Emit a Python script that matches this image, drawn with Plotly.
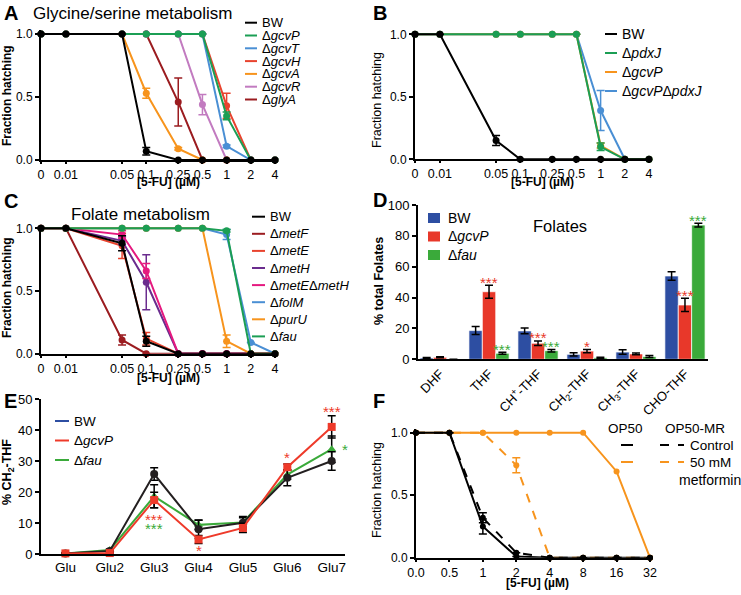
import math
import plotly.graph_objects as go

W, H = 741, 595
FONT = "Arial, Liberation Sans, sans-serif"

# ---------------- data ----------------
CONC = [0, 0.01, 0.05, 0.1, 0.25, 0.5, 1, 2, 4]
CONC_LABELS = ["0", "0.01", "0.05", "0.1", "0.25", "0.5", "1", "2", "4"]
ZERO_AT = 0.0049          # where the "0" dose sits on the log axis

# A: glycine/serine metabolism
A_BW = [1, 1, 1, 0.07, 0, 0, 0, 0, 0]
A_BW_ERR = [None, None, None, 0.03, None, None, None, None, None]
A_GCVP = [1, 1, 1, 1, 1, 1, 0.35, 0, 0]
A_GCVP_ERR = [None] * 6 + [0.03, None, None]
A_GCVT = [1, 1, 1, 1, 1, 1, 0.11, 0, 0]
A_GCVT_ERR = [None] * 6 + [0.01, None, None]
A_GCVH = [1, 1, 1, 1, 1, 1, 0.43, 0, 0]
A_GCVH_ERR = [None] * 6 + [0.1, None, None]
A_GCVA = [1, 1, 1, 0.53, 0.09, 0, 0, 0, 0]
A_GCVA_ERR = [None, None, None, 0.04, 0.01, None, None, None, None]
A_GCVR = [1, 1, 1, 1, 1, 0.44, 0, 0, 0]
A_GCVR_ERR = [None] * 5 + [0.08, None, None, None]
A_GLYA = [1, 1, 1, 1, 0.46, 0, 0, 0, 0]
A_GLYA_ERR = [None] * 4 + [0.19, None, None, None, None]

# B: pdxJ
B_BW = [1, 1, 0.15, 0, 0, 0, 0, 0, 0]
B_BW_ERR = [None, None, 0.04] + [None] * 6
B_PDXJ = [1, 1, 1, 1, 1, 1, 0.1, 0, 0]
B_PDXJ_ERR = [None] * 6 + [0.03, None, None]
B_GCVP = [1, 1, 1, 1, 1, 1, 0.11, 0, 0]
B_GCVP_ERR = [None] * 6 + [0.02, None, None]
B_DOUBLE = [1, 1, 1, 1, 1, 1, 0.39, 0, 0]
B_DOUBLE_ERR = [None] * 6 + [0.16, None, None]

# C: folate metabolism
C_BW = [1, 1, 0.88, 0.1, 0, 0, 0, 0, 0]
C_BW_ERR = [None, None, 0.06, 0.04] + [None] * 5
C_METF = [1, 1, 0.11, 0, 0, 0, 0, 0, 0]
C_METF_ERR = [None, None, 0.04] + [None] * 6
C_METE = [1, 1, 0.86, 0.12, 0, 0, 0, 0, 0]
C_METE_ERR = [None, None, 0.1, 0.05] + [None] * 5
C_METH = [1, 1, 0.9, 0.57, 0, 0, 0, 0, 0]
C_METH_ERR = [None, None, 0.03, 0.22] + [None] * 5
C_METEH = [1, 1, 0.95, 0.66, 0, 0, 0, 0, 0]
C_METEH_ERR = [None, None, 0.03, 0.06] + [None] * 5
C_FOLM = [1, 1, 1, 1, 1, 1, 0.95, 0.09, 0]
C_FOLM_ERR = [None] * 6 + [0.04, None, None]
C_PURU = [1, 1, 1, 1, 1, 1, 0.1, 0, 0]
C_PURU_ERR = [None] * 6 + [0.05, None, None]
C_FAU = [1, 1, 1, 1, 1, 1, 0.98, 0, 0]
C_FAU_ERR = [None] * 6 + [0.01, None, None]

# D: folate species
FOLATES = ["DHF", "THF", "CH<sup>+</sup>-THF", "CH<sub>2</sub>-THF", "CH<sub>3</sub>-THF", "CHO-THF"]
D_BW = [0.9, 18.6, 18.4, 3.2, 4.7, 54.0]
D_BW_ERR = [0.3, 2.6, 1.9, 1.0, 1.5, 2.8]
D_GCVP = [1.3, 43.8, 10.4, 5.3, 3.5, 35.2]
D_GCVP_ERR = [0.3, 4.2, 1.5, 1.0, 0.6, 4.3]
D_FAU = [0.0, 3.9, 5.6, 1.0, 1.8, 87.0]
D_FAU_ERR = [0.0, 0.7, 0.8, 0.3, 0.6, 1.2]

# E: polyglutamation of CH2-THF
GLU = ["Glu", "Glu2", "Glu3", "Glu4", "Glu5", "Glu6", "Glu7"]
E_BW = [0.2, 1.0, 25.8, 8.0, 10.1, 24.6, 30.0]
E_BW_ERR = [0.2, 0.3, 2.0, 3.0, 2.0, 2.6, 3.0]
E_GCVP = [0.2, 0.3, 17.4, 4.7, 8.4, 28.0, 41.0]
E_GCVP_ERR = [0.1, 0.2, 2.5, 1.3, 1.5, 1.0, 3.6]
E_FAU = [0.2, 1.3, 18.6, 9.4, 10.2, 25.6, 33.8]
E_FAU_ERR = [0.1, 0.3, 3.7, 1.5, 1.5, 1.5, 4.3]

# F: metformin
F_CONC = [0, 0.5, 1, 2, 4, 8, 16, 32]
F_LABELS = ["0.0", "0.5", "1", "2", "4", "8", "16", "32"]
F_ZERO_AT = 0.25
F_OP50_CTRL = [1, 1, 0.25, 0.01, 0, 0, 0, 0]
F_OP50_CTRL_ERR = [None, None, 0.06] + [None] * 5
F_MR_CTRL = [1, 1, 0.32, 0.04, 0, 0, 0, 0]
F_MR_CTRL_ERR = [None, None, 0.04] + [None] * 5
F_OP50_MET = [1, 1, 1, 1, 1, 1, 0.69, 0]
F_MR_MET = [1, 1, 1, 0.74, 0, 0, 0, 0]
F_MR_MET_ERR = [None, None, None, 0.06] + [None] * 4

# colours
BLACK = "#000000"
GREEN = "#1B9E54"
BLUE = "#4A8FD4"
RED = "#E8432E"
ORANGE = "#F7941D"
PINK = "#C27BC0"
DKRED = "#9B1C20"
PURPLE = "#6A2C8E"
MAGENTA = "#E5197F"
D_BLUE = "#2D4EA2"
D_RED = "#E8382A"
D_GREEN = "#3AAA3A"
E_RED = "#EE3A2A"


def px(x):
    return x / W


def py(y):
    return 1 - y / H


AX = dict(showline=True, linecolor="black", linewidth=2, ticks="outside", ticklen=4,
          tickwidth=1.5, tickcolor="black", showgrid=False, zeroline=False, automargin=False,
          tickfont=dict(size=12, color="black", family=FONT))


def frac_y(p0, p1, anchor):
    top = p1 - 0.03 * (p0 - p1)
    return dict(AX, domain=[py(p0), py(top)], range=[0, 1.03], tickvals=[0, 0.5, 1],
                ticktext=["0.0", "0.5", "1.0"], anchor=anchor)


def log_x(x0, x1, zero, vals, labels, anchor):
    tv = [v if v > 0 else zero for v in vals]
    return dict(AX, type="log", domain=[px(x0), px(x1)],
                range=[math.log10(zero), math.log10(max(vals))],
                tickvals=tv, ticktext=labels, anchor=anchor, ticklen=2,
                tickfont=dict(size=12.5, color="black", family=FONT))


fig = go.Figure()


def curve(ax, conc, zero, y, err, color, dash="solid", size=7):
    x = [c if c > 0 else zero for c in conc]
    fig.add_trace(go.Scatter(
        x=x, y=y, mode="lines+markers", xaxis="x" + ax, yaxis="y" + ax,
        line=dict(color=color, width=2, dash=dash),
        marker=dict(size=size, color=color),
        error_y=dict(type="data", array=err, color=color, thickness=1.5, width=4) if err else None,
        cliponaxis=False, showlegend=False, hoverinfo="skip"))


# A
for y, e, c in [(A_GLYA, A_GLYA_ERR, DKRED), (A_GCVR, A_GCVR_ERR, PINK), (A_GCVA, A_GCVA_ERR, ORANGE),
                (A_GCVH, A_GCVH_ERR, RED), (A_GCVT, A_GCVT_ERR, BLUE), (A_GCVP, A_GCVP_ERR, GREEN),
                (A_BW, A_BW_ERR, BLACK)]:
    curve("", CONC, ZERO_AT, y, e, c)
# B
for y, e, c in [(B_DOUBLE, B_DOUBLE_ERR, BLUE), (B_GCVP, B_GCVP_ERR, ORANGE),
                (B_PDXJ, B_PDXJ_ERR, GREEN), (B_BW, B_BW_ERR, BLACK)]:
    curve("2", CONC, ZERO_AT, y, e, c)
# C
for y, e, c in [(C_METF, C_METF_ERR, DKRED), (C_METE, C_METE_ERR, RED), (C_METH, C_METH_ERR, PURPLE),
                (C_METEH, C_METEH_ERR, MAGENTA), (C_FOLM, C_FOLM_ERR, BLUE), (C_PURU, C_PURU_ERR, ORANGE),
                (C_FAU, C_FAU_ERR, GREEN), (C_BW, C_BW_ERR, BLACK)]:
    curve("3", CONC, ZERO_AT, y, e, c)

# D bars
for vals, errs, c in [(D_BW, D_BW_ERR, D_BLUE), (D_GCVP, D_GCVP_ERR, D_RED), (D_FAU, D_FAU_ERR, D_GREEN)]:
    fig.add_trace(go.Bar(
        x=FOLATES, y=vals, xaxis="x4", yaxis="y4", showlegend=False, hoverinfo="skip",
        marker=dict(color=c, line=dict(color="rgba(255,255,255,0.7)", width=1)),
        error_y=dict(type="data", array=errs, color="black", thickness=1.5, width=4)))

# E lines
for vals, errs, c, sym in [(E_FAU, E_FAU_ERR, D_GREEN, "triangle-up"), (E_BW, E_BW_ERR, "#231F20", "circle"),
                           (E_GCVP, E_GCVP_ERR, E_RED, "square")]:
    fig.add_trace(go.Scatter(
        x=GLU, y=vals, xaxis="x5", yaxis="y5", mode="lines+markers", showlegend=False,
        hoverinfo="skip", cliponaxis=False,
        line=dict(color=c, width=2), marker=dict(symbol=sym, size=8, color=c),
        error_y=dict(type="data", array=errs, color="black", thickness=1.5, width=4)))

# F
curve("6", F_CONC, F_ZERO_AT, F_OP50_MET, None, ORANGE, size=6)
curve("6", F_CONC, F_ZERO_AT, F_MR_MET, F_MR_MET_ERR, ORANGE, dash="dash", size=6)
curve("6", F_CONC, F_ZERO_AT, F_MR_CTRL, F_MR_CTRL_ERR, BLACK, dash="dash", size=6)
curve("6", F_CONC, F_ZERO_AT, F_OP50_CTRL, F_OP50_CTRL_ERR, BLACK, size=6)

BIG = dict(size=13, color="black", family=FONT)
layout = dict(
    template="none",
    width=W, height=H, margin=dict(l=0, r=0, t=0, b=0),
    paper_bgcolor="white", plot_bgcolor="rgba(0,0,0,0)",
    font=dict(family=FONT, color="black", size=12),
    bargap=0.18, bargroupgap=0, barmode="group",
    xaxis=log_x(41, 275, ZERO_AT, CONC, CONC_LABELS, "y"),
    yaxis=frac_y(160, 34, "x"),
    xaxis2=log_x(415, 649, ZERO_AT, CONC, CONC_LABELS, "y2"),
    yaxis2=frac_y(159.3, 34.3, "x2"),
    xaxis3=log_x(41, 275, ZERO_AT, CONC, CONC_LABELS, "y3"),
    yaxis3=frac_y(353.7, 228.3, "x3"),
    xaxis4=dict(AX, domain=[px(418), px(708)], range=[-0.45, 5.47], ticks="", tickangle=-45,
                anchor="y4", tickvals=FOLATES, ticktext=FOLATES, tickfont=BIG),
    yaxis4=dict(AX, domain=[py(359.3), py(205)], range=[0, 100], dtick=20, anchor="x4", tickfont=BIG),
    xaxis5=dict(AX, domain=[px(41), px(345)], range=[-0.55, 6.3], ticks="", anchor="y5",
                tickfont=dict(BIG, size=13.5)),
    yaxis5=dict(AX, domain=[py(554), py(399)], range=[0, 50], dtick=10, anchor="x5", tickfont=BIG),
    xaxis6=log_x(416, 650, F_ZERO_AT, F_CONC, F_LABELS, "y6"),
    yaxis6=frac_y(557.7, 432.7, "x6"),
)
fig.update_layout(**layout)

ann = []
shapes = []


def text(x, y, t, size=12, bold=False, angle=0, anchor="center", color="black"):
    if bold:
        t = "<b>" + t + "</b>"
    ann.append(dict(x=px(x), y=py(y), xref="paper", yref="paper", text=t, showarrow=False,
                    textangle=angle, xanchor=anchor, yanchor="middle",
                    font=dict(size=size, color=color, family=FONT)))


def key(x0, x1, y, color, label, size=13, dash="solid"):
    shapes.append(dict(type="line", xref="paper", yref="paper", x0=px(x0), x1=px(x1),
                       y0=py(y), y1=py(y), line=dict(color=color, width=2, dash=dash)))
    if label:
        text(x1 + 3, y, label, size=size, anchor="left")


def gene(*names):
    return "".join("Δ<i>%s</i>" % n for n in names)


# panel letters
for L, x, y in [("A", 2, 13), ("B", 371, 13), ("C", 2, 201), ("D", 371, 200), ("E", 2, 401), ("F", 371, 401)]:
    text(x, y, L, size=20, bold=True, anchor="left")

# titles
text(31, 13, "Glycine/serine metabolism", size=17, anchor="left")
text(140, 214, "Folate metabolism", size=17)
text(560, 226, "Folates", size=16.5)

# axis titles
text(7, 96, "Fraction hatching", size=12, bold=True, angle=-90)
text(168, 182, "[5-FU] (µM)", size=12, bold=True)
text(377, 100, "Fraction hatching", size=12.5, angle=-90)
text(542, 182, "[5-FU] (µM)", size=12, bold=True)
text(7, 288, "Fraction hatching", size=12, bold=True, angle=-90)
text(168, 378, "[5-FU] (µM)", size=12, bold=True)
text(379, 281, "% total Folates", size=12.5, bold=True, angle=-90)
text(8, 472, "% CH<sub>2</sub>-THF", size=12.5, bold=True, angle=-90)
text(377, 490, "Fraction hatching", size=12.5, angle=-90)
text(537, 583, "[5-FU] (µM)", size=12, bold=True)

# legend A
for i, (lab, c) in enumerate([("BW", BLACK), (gene("gcvP"), GREEN), (gene("gcvT"), BLUE), (gene("gcvH"), RED),
                              (gene("gcvA"), ORANGE), (gene("gcvR"), PINK), (gene("glyA"), DKRED)]):
    key(245, 257, 22.7 + i * 12.8, c, lab)
# legend B
for i, (lab, c) in enumerate([("BW", BLACK), (gene("pdxJ"), GREEN), (gene("gcvP"), ORANGE),
                              (gene("gcvP", "pdxJ"), BLUE)]):
    key(605, 617, 34 + i * 19, c, lab, size=14)
# legend C
for i, (lab, c) in enumerate([("BW", BLACK), (gene("metF"), DKRED), (gene("metE"), RED), (gene("metH"), PURPLE),
                              (gene("metE", "metH"), MAGENTA), (gene("folM"), BLUE), (gene("purU"), ORANGE),
                              (gene("fau"), GREEN)]):
    key(252, 265, 216.7 + i * 17.1, c, lab)
# legend D (square keys)
for i, (lab, c) in enumerate([("BW", D_BLUE), (gene("gcvP"), D_RED), (gene("fau"), D_GREEN)]):
    yy = 218 + i * 18.5
    shapes.append(dict(type="rect", xref="paper", yref="paper", x0=px(428), x1=px(440),
                       y0=py(yy + 5), y1=py(yy - 5), fillcolor=c, line=dict(width=0)))
    text(446, yy, lab, size=14, anchor="left")
# legend E
for i, (lab, c) in enumerate([("BW", D_BLUE), (gene("gcvP"), E_RED), (gene("fau"), D_GREEN)]):
    key(55, 69, 421 + i * 19.5, c, lab, size=13.5)
# legend F
text(625, 428, "OP50", size=13.5)
text(695, 428, "OP50-MR", size=13.5)
key(621, 633, 445, BLACK, None)
key(660, 684, 445, BLACK, None, dash="dash")
text(688, 445, "Control", size=13.5, anchor="left")
key(621, 633, 462, ORANGE, None)
key(660, 684, 462, ORANGE, None, dash="dash")
text(688, 462, "50 mM", size=13.5, anchor="left")
text(677, 480, "metformin", size=14, anchor="left")

# significance stars, D (bar offsets: -1, 0, +1 bar widths)
BW_D = (1 - 0.18) / 3
for idx, off, top, s, c in [(1, 0, D_GCVP[1] + D_GCVP_ERR[1], "***", D_RED),
                            (1, 1, D_FAU[1] + D_FAU_ERR[1], "***", D_GREEN),
                            (2, 0, D_GCVP[2] + D_GCVP_ERR[2], "***", D_RED),
                            (2, 1, D_FAU[2] + D_FAU_ERR[2], "***", D_GREEN),
                            (3, 0, D_GCVP[3] + D_GCVP_ERR[3], "*", D_RED),
                            (5, 0, D_GCVP[5] + D_GCVP_ERR[5], "***", D_RED),
                            (5, 1, D_FAU[5] + D_FAU_ERR[5], "***", D_GREEN)]:
    ann.append(dict(x=idx + off * BW_D, y=top + 2, xref="x4", yref="y4", text=s, showarrow=False,
                    yanchor="middle", font=dict(size=15, color=c, family=FONT)))

# significance stars, E
for idx, y, s, c, dx in [(6, 46.5, "***", E_RED, 0), (6, 34.3, "*", D_GREEN, 0.3),
                         (5, 31.7, "*", E_RED, 0), (2, 11.7, "***", E_RED, 0),
                         (2, 8.8, "***", D_GREEN, 0), (3, 1.7, "*", E_RED, 0)]:
    ann.append(dict(x=idx + dx, y=y - 0.6, xref="x5", yref="y5", text=s, showarrow=False,
                    yanchor="middle", font=dict(size=15, color=c, family=FONT)))

fig.update_layout(annotations=ann, shapes=shapes)
fig.write_html("out.html", config=dict(displayModeBar=False),
               post_script="document.body.style.margin = '0px';")
